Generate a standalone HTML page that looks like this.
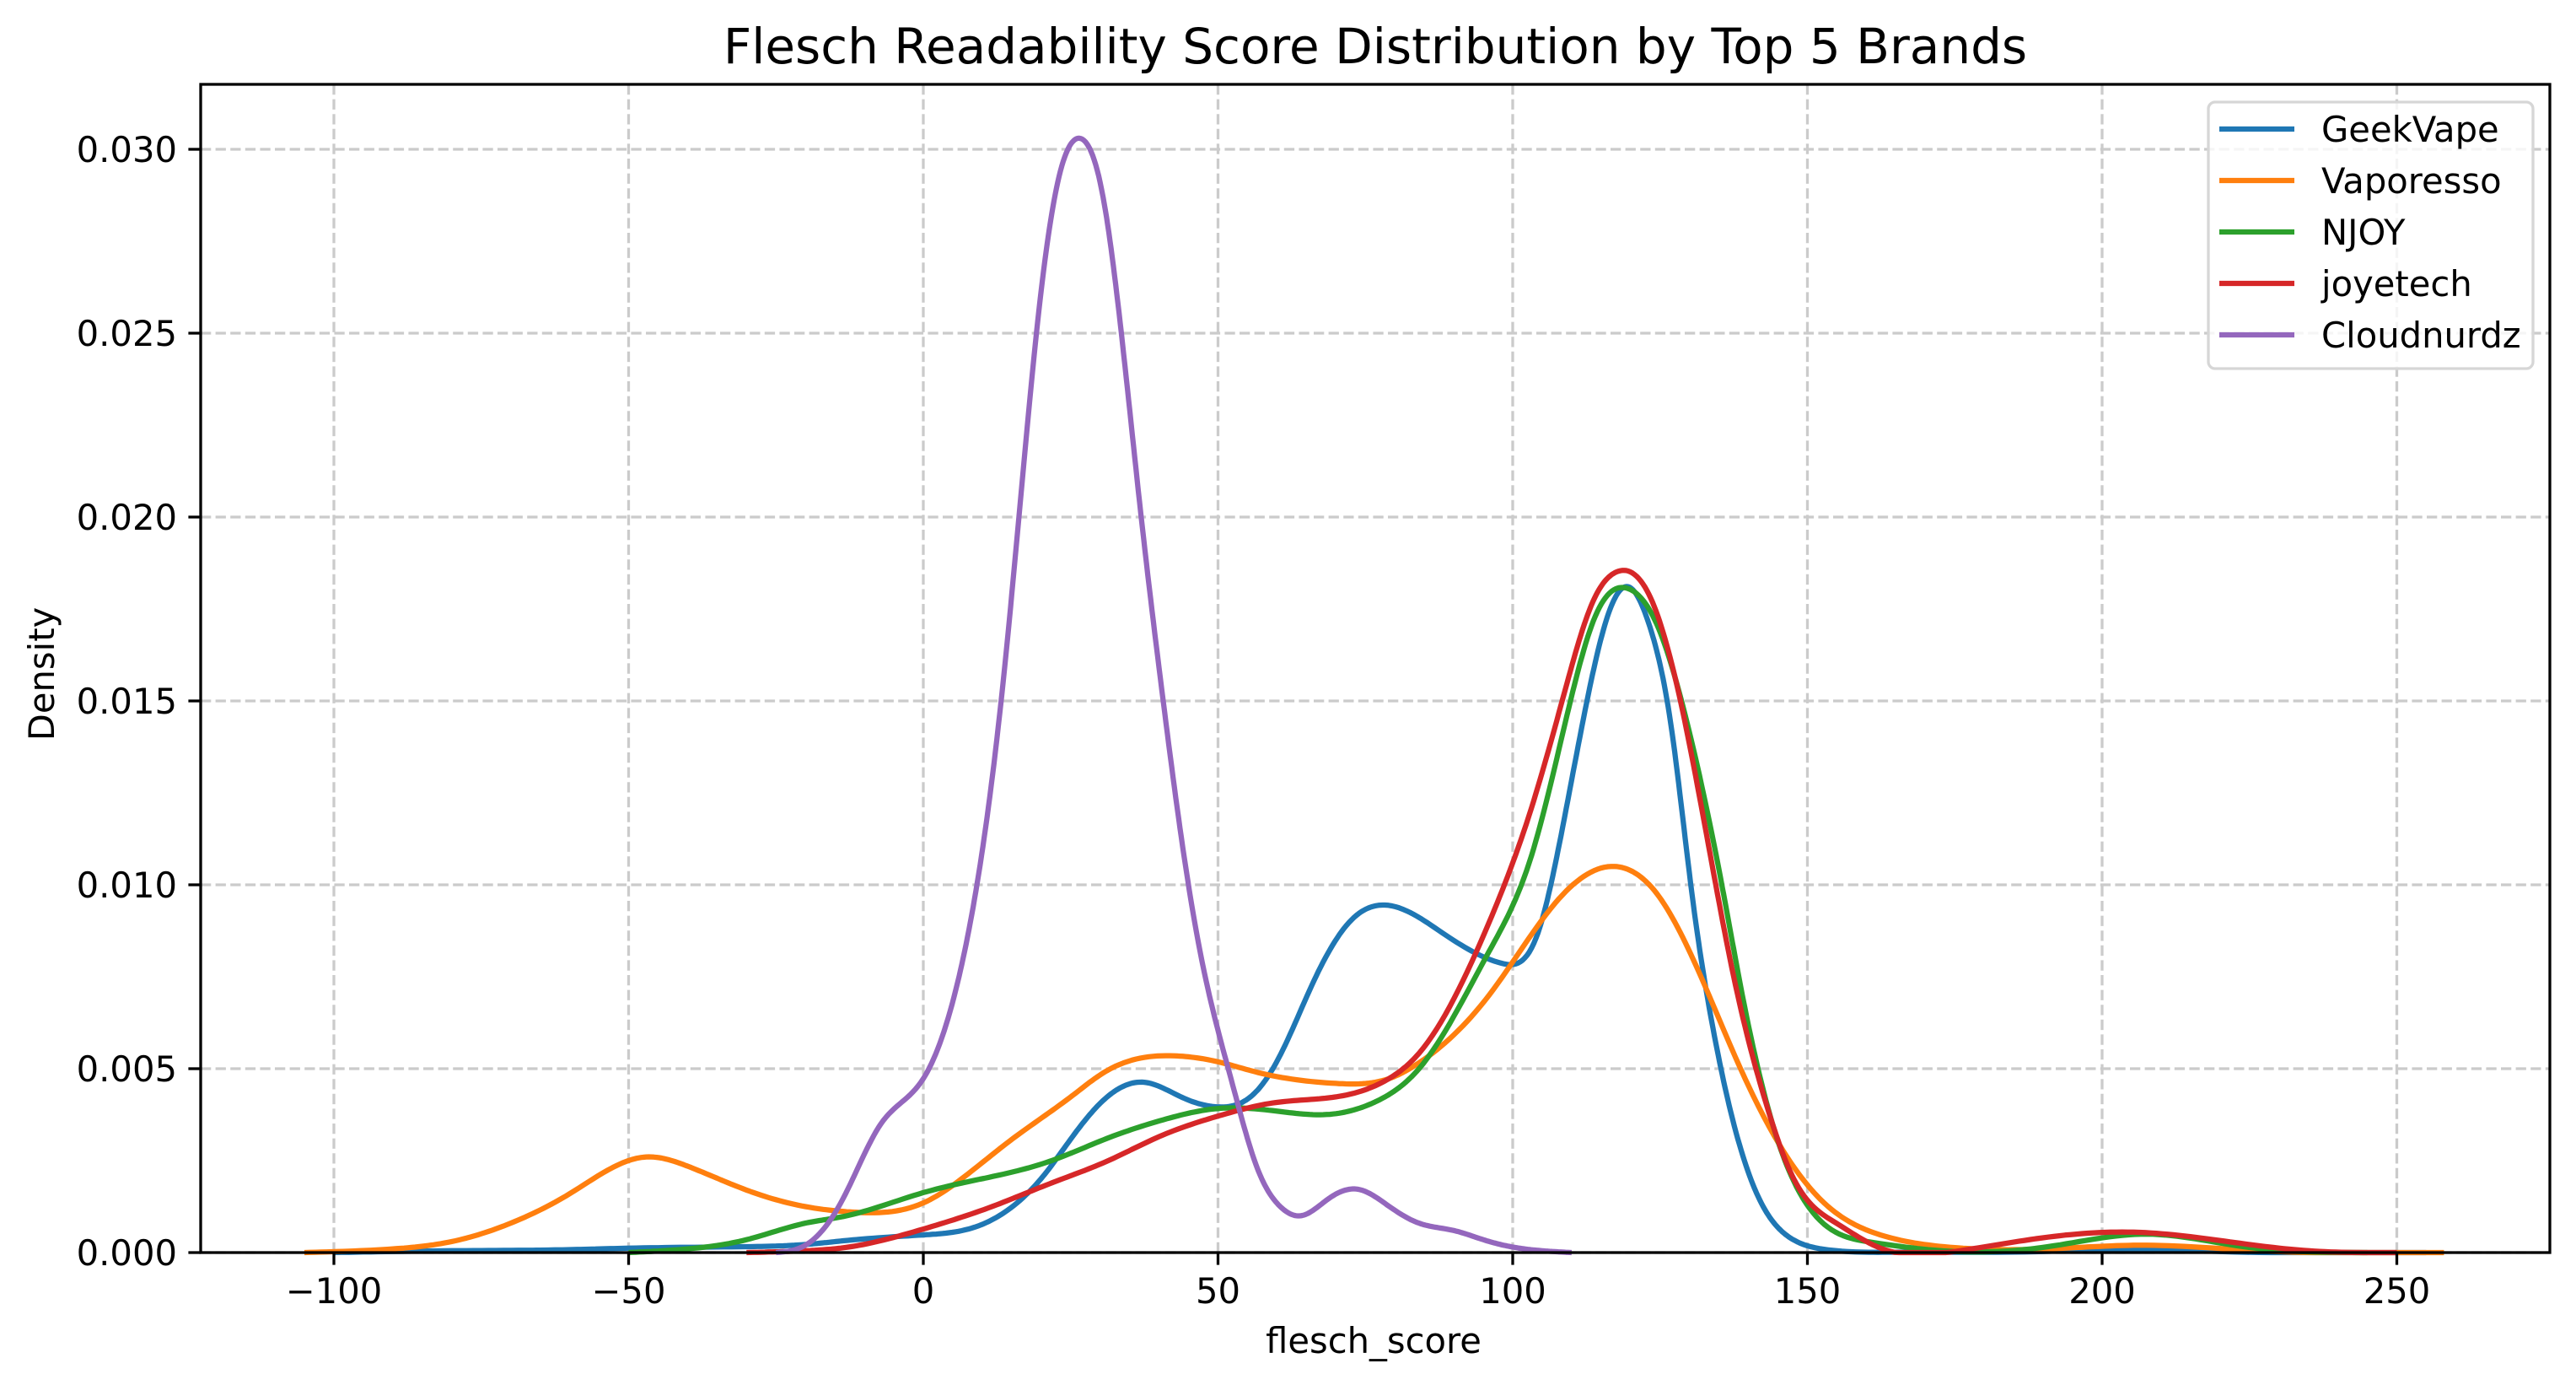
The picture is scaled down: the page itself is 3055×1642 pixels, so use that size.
<!DOCTYPE html>
<html><head><meta charset="utf-8"><style>
html,body{margin:0;padding:0;background:#fff;}
svg{display:block;font-family:"DejaVu Sans","Liberation Sans",sans-serif;}
</style></head><body>
<svg id="chart" width="3055" height="1642" viewBox="0 0 3055 1642" xmlns="http://www.w3.org/2000/svg">
<rect x="0" y="0" width="3055" height="1642" fill="#fff"/>
<text x="1631" y="75" font-size="58" text-anchor="middle">Flesch Readability Score Distribution by Top 5 Brands</text>
<g id="grid"></g>
<g id="series"></g>
<g id="axes"></g>
<text x="1629" y="1604" font-size="41.7" text-anchor="middle">flesch_score</text>
<text transform="translate(64,799) rotate(-90)" font-size="41.7" text-anchor="middle">Density</text>
<g id="legend"></g>
</svg>
<script>
const xTicks = [-100, -50, 0, 50, 100, 150, 200, 250];
const yTicks = [0, 0.005, 0.010, 0.015, 0.020, 0.025, 0.030];
const yTickLabels = ["0.000", "0.005", "0.010", "0.015", "0.020", "0.025", "0.030"];
const seriesNames = ["GeekVape", "Vaporesso", "NJOY", "joyetech", "Cloudnurdz"];
const seriesColors = ["#1f77b4", "#ff7f0e", "#2ca02c", "#d62728", "#9467bd"];

const geekX = [-100, -80, -60, -50, -30, -20, -13.6, 0, 8.7, 15.2, 20.3, 26, 31.1, 37.5, 43.9, 50.2, 55.4, 59.8, 66.3, 72.6, 78.3, 88, 98.3, 104.3, 107.9, 112.6, 116.3, 119.7, 123.3, 126.8, 130.4, 134, 137.6, 142.2, 146.9, 152.8, 165, 190, 205, 220, 255];
const geekY = [0, 0.05, 0.08, 0.12, 0.16, 0.22, 0.32, 0.48, 0.69, 1.26, 2.07, 3.3, 4.22, 4.63, 4.22, 3.96, 4.22, 5.14, 7.4, 9.04, 9.45, 8.7, 7.86, 8.7, 11.1, 15.0, 17.4, 18.1, 17.0, 14.4, 9.77, 6.08, 3.44, 1.34, 0.42, 0.09, 0.01, 0.03, 0.1, 0.03, 0];

const vapX = [-105, -90, -80, -70, -60, -47, -40, -30, -20, -12, 0, 8.7, 15.2, 24.9, 31.1, 42.6, 50.2, 56.7, 70, 79, 84.1, 96, 107.9, 117.3, 124.4, 131.5, 138.6, 145.8, 152.9, 162.4, 173.1, 190.8, 206.3, 226.5, 258];
const vapY = [0, 0.1, 0.3, 0.8, 1.6, 2.6, 2.35, 1.7, 1.25, 1.1, 1.35, 2.28, 3.1, 4.22, 4.94, 5.35, 5.18, 4.9, 4.6, 4.73, 5.16, 7.0, 9.63, 10.5, 9.77, 7.66, 5.02, 2.79, 1.34, 0.48, 0.16, 0.1, 0.2, 0.05, 0];

const njoyX = [-50, -40, -30, -20, -13.6, 0, 11.8, 21.4, 31.1, 40.7, 50.2, 59.8, 69, 77.1, 84.1, 96, 103.2, 108.9, 114, 119.5, 124.4, 129.9, 135.6, 138.6, 144.4, 150.3, 160.5, 175, 190.8, 207.6, 224, 245];
const njoyY = [0, 0.1, 0.35, 0.8, 0.98, 1.63, 2.07, 2.48, 3.1, 3.61, 3.92, 3.85, 3.76, 4.13, 5.0, 8.19, 10.8, 14.4, 17.3, 18.06, 17.1, 14.2, 9.9, 7.3, 3.33, 1.22, 0.29, 0.03, 0.16, 0.5, 0.16, 0];

const joyX = [-30, -20, -13.6, 0, 11.8, 21.4, 31.1, 40.7, 50.2, 59.8, 69.4, 79, 84.1, 96, 103.2, 108.9, 113.6, 117.5, 123.1, 127.9, 132.9, 137.8, 142.9, 147.7, 154.8, 162.4, 175, 190.8, 206.3, 221.7, 235, 250];
const joyY = [0, 0.05, 0.13, 0.64, 1.26, 1.87, 2.48, 3.2, 3.72, 4.08, 4.22, 4.73, 5.42, 8.98, 12.1, 15.3, 17.7, 18.5, 17.9, 15.4, 11.35, 7.27, 4.1, 2.0, 0.81, 0.12, 0.03, 0.42, 0.55, 0.29, 0.05, 0];

const cloudX = [-25, -20, -13.6, -7.2, 0, 5.6, 9.4, 13.2, 16.4, 19.6, 22.8, 26.5, 30.5, 33.6, 36.9, 40.7, 44.5, 47.7, 52.2, 56.7, 60.5, 64, 68.8, 73.8, 79, 84.1, 90, 95, 100, 105, 110];
const cloudY = [0, 0.2, 1.47, 3.5, 4.73, 7.2, 10.3, 15.0, 20.3, 25.6, 29.1, 30.3, 28.7, 25.0, 20.1, 15.0, 10.5, 7.6, 4.73, 2.28, 1.26, 1.0, 1.47, 1.72, 1.26, 0.8, 0.6, 0.35, 0.15, 0.05, 0];

const seriesX = [geekX, vapX, njoyX, joyX, cloudX];
const seriesY = [geekY, vapY, njoyY, joyY, cloudY];

const L = 238, R = 3024, T = 100, B = 1485;
function sx(v){ return 1095 + v * 6.99; }
function sy(v){ return B - v / 0.005 * 218; }

const NS = "http://www.w3.org/2000/svg";
function mk(tag, attrs, parent){ const e = document.createElementNS(NS, tag); for (const k in attrs) e.setAttribute(k, attrs[k]); parent.appendChild(e); return e; }

const grid = document.getElementById('grid');
const axes = document.getElementById('axes');
const gridStyle = {stroke:"#cbcbcb", "stroke-width":"3.3", "stroke-dasharray":"12.3 5.3", fill:"none"};
xTicks.forEach(t => {
  const g = mk('line', Object.assign({x1:sx(t), x2:sx(t), y1:T, y2:B}, gridStyle), grid);
  
  
});
yTicks.forEach(t => {
  const g = mk('line', Object.assign({x1:L, x2:R, y1:sy(t), y2:sy(t)}, gridStyle), grid);
  
  
});

// natural cubic spline, sampled finely, clamped at zero
function splinePath(xs, ys){
  const n = xs.length, h = [], a = [], l = [1], mu = [0], z = [0], c = new Array(n).fill(0);
  for (let i=0;i<n-1;i++) h[i]=xs[i+1]-xs[i];
  for (let i=1;i<n-1;i++) a[i]=3/h[i]*(ys[i+1]-ys[i]) - 3/h[i-1]*(ys[i]-ys[i-1]);
  for (let i=1;i<n-1;i++){
    l[i]=2*(xs[i+1]-xs[i-1]) - h[i-1]*mu[i-1];
    mu[i]=h[i]/l[i];
    z[i]=(a[i]-h[i-1]*z[i-1])/l[i];
  }
  l[n-1]=1; z[n-1]=0;
  const b=[], d=[];
  for (let j=n-2;j>=0;j--){
    c[j]=z[j]-mu[j]*c[j+1];
    b[j]=(ys[j+1]-ys[j])/h[j] - h[j]*(c[j+1]+2*c[j])/3;
    d[j]=(c[j+1]-c[j])/(3*h[j]);
  }
  const pts = [];
  for (let i=0;i<n-1;i++){
    const steps = 16;
    for (let s=0;s<steps;s++){
      const dx = h[i]*s/steps;
      const v = ys[i] + b[i]*dx + c[i]*dx*dx + d[i]*dx*dx*dx;
      pts.push([sx(xs[i]+dx), sy(Math.max(0,v)/1000)]);
    }
  }
  pts.push([sx(xs[n-1]), sy(ys[n-1]/1000)]);
  return "M" + pts.map(p=>p[0].toFixed(1)+","+p[1].toFixed(1)).join(" L");
}
const sg = document.getElementById('series');
seriesNames.forEach((n,i)=>{
  const e = mk('path', {d:splinePath(seriesX[i], seriesY[i]), stroke:seriesColors[i], "stroke-width":"6.25", fill:"none", "stroke-linejoin":"round"}, sg);
  
  
});

const frame = mk('rect', {x:L, y:T, width:R-L, height:B-T, fill:"none", stroke:"#000", "stroke-width":"3.3"}, axes);


xTicks.forEach(t => {
  const tk = mk('line', {x1:sx(t), x2:sx(t), y1:B, y2:B+14.6, stroke:"#000", "stroke-width":"3.3"}, axes);
  
  
  const lb = mk('text', {x:sx(t), y:1545, "font-size":"41.7", "text-anchor":"middle"}, axes);
  lb.textContent = (t<0 ? "\u2212" + Math.abs(t) : String(t));
  
  
});
yTicks.forEach((t,i) => {
  const tk = mk('line', {x1:L-14.6, x2:L, y1:sy(t), y2:sy(t), stroke:"#000", "stroke-width":"3.3"}, axes);
  
  
  const lb = mk('text', {x:L-28, y:sy(t)+15, "font-size":"41.7", "text-anchor":"end"}, axes);
  lb.textContent = yTickLabels[i];
  
  
});

const lg = document.getElementById('legend');
const box = mk('rect', {x:2619, y:121, width:385, height:316, rx:8, fill:"#fff", "fill-opacity":"0.8", stroke:"#d6d6d6", "stroke-width":"3.3"}, lg);


seriesNames.forEach((n,i)=>{
  const y = 153 + i*61;
  const ln = mk('line', {x1:2632, x2:2721, y1:y, y2:y, stroke:seriesColors[i], "stroke-width":"6.25"}, lg);
  
  
  const tx = mk('text', {x:2753, y:y+15, "font-size":"41.7"}, lg);
  tx.textContent = n;
  
  
});
</script>
</body></html>
